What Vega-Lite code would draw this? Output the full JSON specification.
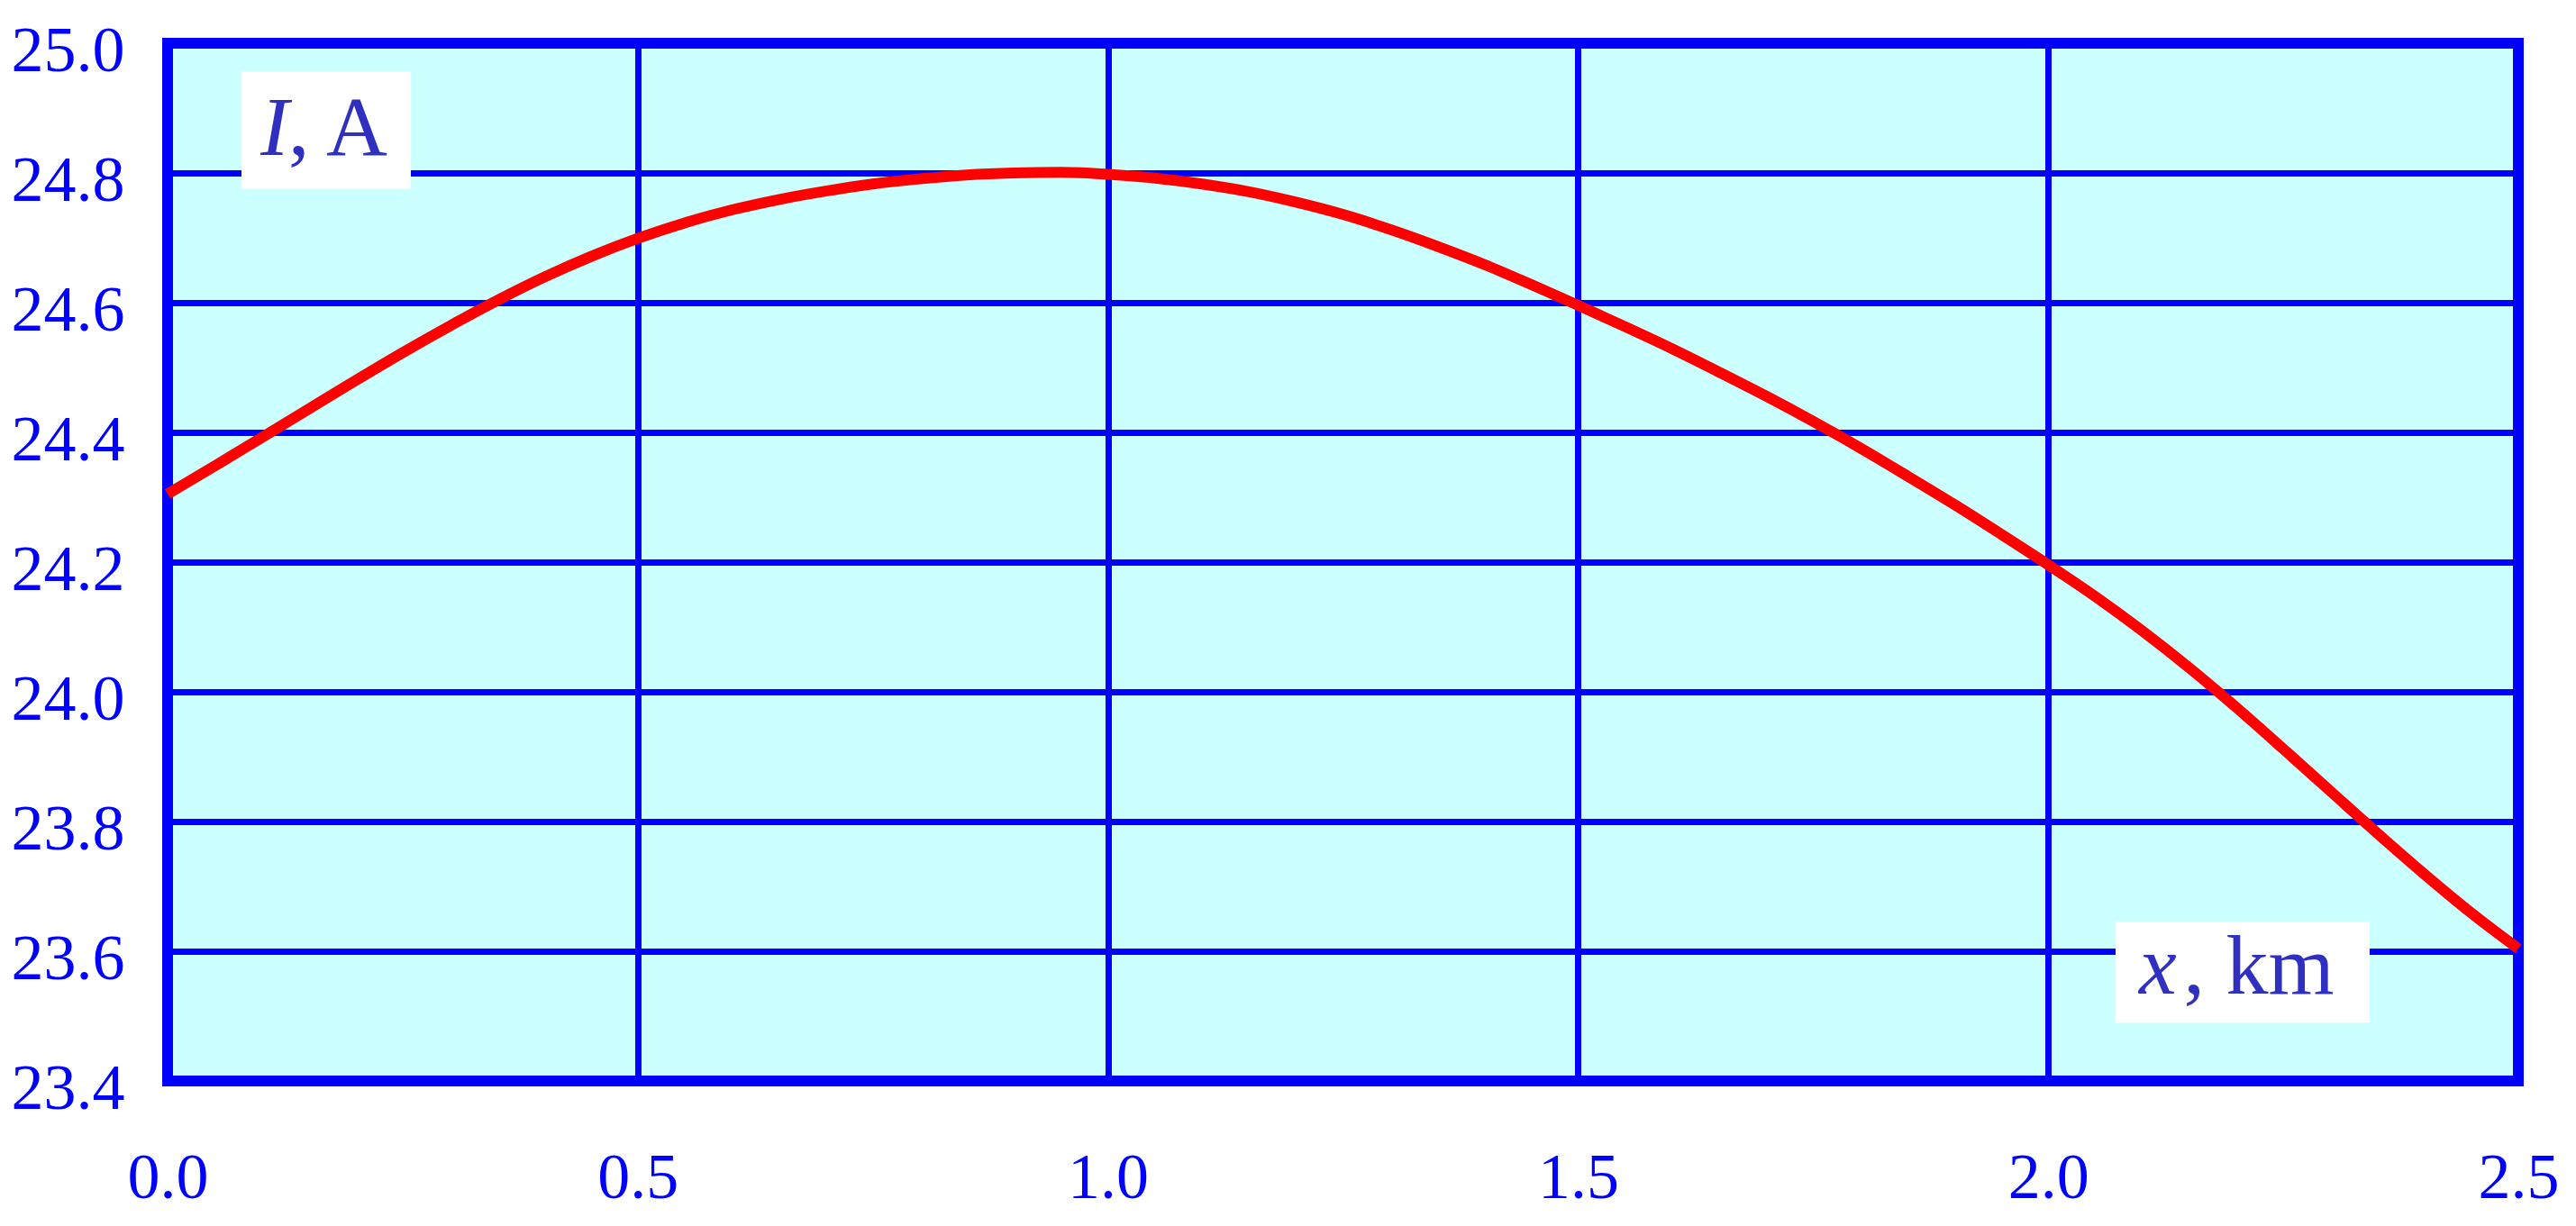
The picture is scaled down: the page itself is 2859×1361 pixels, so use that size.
{
  "$schema": "https://vega.github.io/schema/vega-lite/v6.json",
  "width": 2609,
  "height": 1152,
  "autosize": "none",
  "padding": {"left": 186, "top": 48, "right": 64, "bottom": 161},
  "background": "white",
  "config": {
    "view": {"fill": "#CCFFFF", "stroke": "#0000FF", "strokeWidth": 12},
    "axis": {
      "domain": false,
      "ticks": false,
      "tickSize": 0,
      "grid": true,
      "gridColor": "#0000FF",
      "gridWidth": 7,
      "gridOpacity": 1,
      "labelColor": "#0000FF",
      "labelFont": "Liberation Serif",
      "labelFontSize": 72,
      "labelFlush": false,
      "labelOverlap": false,
      "title": null
    }
  },
  "datasets": {
    "curve": [
      {"x": 0.00, "y": 24.305},
      {"x": 0.05, "y": 24.348},
      {"x": 0.10, "y": 24.392},
      {"x": 0.15, "y": 24.436},
      {"x": 0.20, "y": 24.480},
      {"x": 0.25, "y": 24.523},
      {"x": 0.30, "y": 24.564},
      {"x": 0.35, "y": 24.603},
      {"x": 0.40, "y": 24.639},
      {"x": 0.45, "y": 24.671},
      {"x": 0.50, "y": 24.699},
      {"x": 0.55, "y": 24.723},
      {"x": 0.60, "y": 24.743},
      {"x": 0.65, "y": 24.759},
      {"x": 0.70, "y": 24.772},
      {"x": 0.75, "y": 24.783},
      {"x": 0.80, "y": 24.791},
      {"x": 0.85, "y": 24.797},
      {"x": 0.90, "y": 24.800},
      {"x": 0.95, "y": 24.801},
      {"x": 1.00, "y": 24.798},
      {"x": 1.05, "y": 24.792},
      {"x": 1.10, "y": 24.783},
      {"x": 1.15, "y": 24.771},
      {"x": 1.20, "y": 24.755},
      {"x": 1.25, "y": 24.736},
      {"x": 1.30, "y": 24.713},
      {"x": 1.35, "y": 24.687},
      {"x": 1.40, "y": 24.659},
      {"x": 1.45, "y": 24.628},
      {"x": 1.50, "y": 24.596},
      {"x": 1.55, "y": 24.563},
      {"x": 1.60, "y": 24.529},
      {"x": 1.65, "y": 24.493},
      {"x": 1.70, "y": 24.456},
      {"x": 1.75, "y": 24.417},
      {"x": 1.80, "y": 24.376},
      {"x": 1.85, "y": 24.333},
      {"x": 1.90, "y": 24.289},
      {"x": 1.95, "y": 24.243},
      {"x": 2.00, "y": 24.196},
      {"x": 2.05, "y": 24.147},
      {"x": 2.10, "y": 24.094},
      {"x": 2.15, "y": 24.037},
      {"x": 2.20, "y": 23.976},
      {"x": 2.25, "y": 23.912},
      {"x": 2.30, "y": 23.847},
      {"x": 2.35, "y": 23.782},
      {"x": 2.40, "y": 23.719},
      {"x": 2.45, "y": 23.659},
      {"x": 2.50, "y": 23.604}
    ],
    "boxes": [
      {"x": 0.0786, "x2": 0.2587, "y": 24.957, "y2": 24.775},
      {"x": 2.0717, "x2": 2.3419, "y": 23.646, "y2": 23.490}
    ],
    "italic": [
      {"x": 0.0990, "y": 24.828, "t": "I"},
      {"x": 2.0966, "y": 23.535, "t": "x"}
    ],
    "upright": [
      {"x": 0.1285, "y": 24.828, "t": ", A"},
      {"x": 2.1440, "y": 23.535, "t": ", km"}
    ]
  },
  "layer": [
    {
      "data": {"name": "boxes"},
      "mark": {"type": "rect", "fill": "white", "stroke": null},
      "encoding": {
        "x": {"field": "x", "type": "quantitative", "scale": {"domain": [0, 2.5], "nice": false, "zero": false}, "axis": {"values": [0, 0.5, 1, 1.5, 2, 2.5], "format": ".1f", "labelPadding": 72, "title": null}},
        "x2": {"field": "x2"},
        "y": {"field": "y", "type": "quantitative", "scale": {"domain": [23.4, 25.0], "nice": false, "zero": false}, "axis": {"values": [23.4, 23.6, 23.8, 24.0, 24.2, 24.4, 24.6, 24.8, 25.0], "format": ".1f", "labelPadding": 48, "labelOffset": 8, "title": null}},
        "y2": {"field": "y2"}
      }
    },
    {
      "data": {"name": "italic"},
      "mark": {"type": "text", "font": "Liberation Serif", "fontStyle": "italic", "fontSize": 94, "color": "#3030C0", "align": "left", "baseline": "alphabetic"},
      "encoding": {
        "x": {"field": "x", "type": "quantitative", "axis": {"values": [0, 0.5, 1, 1.5, 2, 2.5], "format": ".1f", "labelPadding": 72, "title": null}},
        "y": {"field": "y", "type": "quantitative", "axis": {"values": [23.4, 23.6, 23.8, 24.0, 24.2, 24.4, 24.6, 24.8, 25.0], "format": ".1f", "labelPadding": 48, "labelOffset": 8, "title": null}},
        "text": {"field": "t"}
      }
    },
    {
      "data": {"name": "upright"},
      "mark": {"type": "text", "font": "Liberation Serif", "fontSize": 94, "color": "#3030C0", "align": "left", "baseline": "alphabetic"},
      "encoding": {
        "x": {"field": "x", "type": "quantitative", "axis": {"values": [0, 0.5, 1, 1.5, 2, 2.5], "format": ".1f", "labelPadding": 72, "title": null}},
        "y": {"field": "y", "type": "quantitative", "axis": {"values": [23.4, 23.6, 23.8, 24.0, 24.2, 24.4, 24.6, 24.8, 25.0], "format": ".1f", "labelPadding": 48, "labelOffset": 8, "title": null}},
        "text": {"field": "t"}
      }
    },
    {
      "data": {"name": "curve"},
      "mark": {"type": "line", "color": "#FF0000", "strokeWidth": 12, "interpolate": "monotone"},
      "encoding": {
        "x": {"field": "x", "type": "quantitative", "axis": {"values": [0, 0.5, 1, 1.5, 2, 2.5], "format": ".1f", "labelPadding": 72, "title": null}},
        "y": {"field": "y", "type": "quantitative", "axis": {"values": [23.4, 23.6, 23.8, 24.0, 24.2, 24.4, 24.6, 24.8, 25.0], "format": ".1f", "labelPadding": 48, "labelOffset": 8, "title": null}}
      }
    }
  ]
}
